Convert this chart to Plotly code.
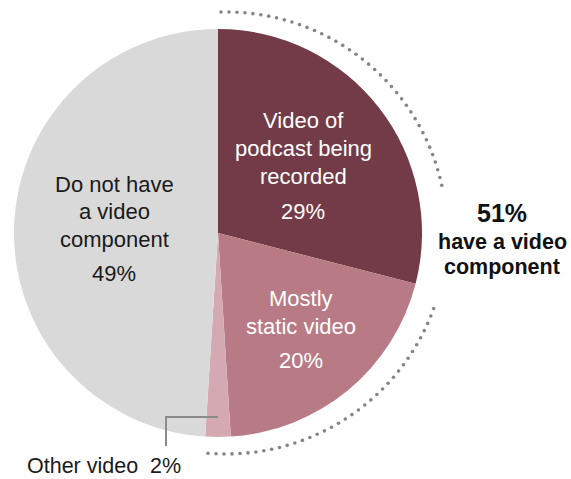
import numpy as np
import plotly.graph_objects as go

# Share of podcasts by type of video component (%)
categories = ["Video of podcast being recorded", "Mostly static video", "Other video", "Do not have a video component"]
shares = [29, 20, 2, 49]
colors = ["#733b47", "#b87b86", "#d5a9b1", "#d9d9d9"]

video_share = sum(shares[:3])

W, H = 571, 479
cx, cy, r = 218, 233, 204

fig = go.Figure()

fig.add_trace(go.Pie(
    labels=categories,
    values=shares,
    sort=False,
    direction="clockwise",
    rotation=0,
    marker=dict(colors=colors, line=dict(width=0)),
    textinfo="none",
    hoverinfo="skip",
    showlegend=False,
    domain=dict(x=[(cx - r) / W, (cx + r) / W], y=[1 - (cy + r) / H, 1 - (cy - r) / H]),
))

# Dotted bracket around the slices that have a video component
acx, acy, ar = 226, 233, 221
end_deg = video_share / 100 * 360 + 1.5
step = np.degrees(8 / ar)
segs = [np.arange(-1.3, 78.5, step), np.arange(110, end_deg + 0.1, step)]
ang = np.radians(np.concatenate(segs))
fig.add_trace(go.Scatter(
    x=acx + ar * np.sin(ang), y=acy - ar * np.cos(ang),
    mode="markers",
    marker=dict(size=3.6, color="#858585"),
    hoverinfo="skip", showlegend=False,
))

# Leader line for the small slice
fig.add_shape(type="line", x0=218, y0=417, x1=166, y1=417, xref="x", yref="y",
              line=dict(color="#8a8a8a", width=2))
fig.add_shape(type="line", x0=166, y0=416, x1=166, y1=446, xref="x", yref="y",
              line=dict(color="#8a8a8a", width=2))

FONT = "Liberation Sans, Arial, sans-serif"


def label(x, y, text, size=22, color="#1a1a1a", bold=False):
    if bold:
        text = "<b>" + text + "</b>"
    fig.add_annotation(x=x, y=y, xref="x", yref="y", text=text, showarrow=False,
                       xanchor="center", yanchor="middle", align="center",
                       font=dict(family=FONT, size=size, color=color))


def lines(x, ys, texts, **kw):
    for y, t in zip(ys, texts):
        label(x, y, t, **kw)


lines(303, [120, 148, 176], ["Video of", "podcast being", "recorded"], color="#ffffff")
label(303, 211, f"{shares[0]}%", color="#ffffff")

lines(301, [298, 326], ["Mostly", "static video"], color="#ffffff")
label(301, 360, f"{shares[1]}%", color="#ffffff")

lines(114, [184, 211, 239], ["Do not have", "a video", "component"])
label(114, 273, f"{shares[3]}%")

fig.add_annotation(x=25, y=466, xref="x", yref="y", text=f"Other video  {shares[2]}%",
                   showarrow=False, xanchor="left", yanchor="middle",
                   font=dict(family=FONT, size=21.5, color="#1a1a1a"))

label(502, 213, f"{video_share}%", size=25, color="#111111", bold=True)
lines(502, [242, 267], ["have a video", "component"], size=21.5, color="#111111", bold=True)

fig.update_layout(
    width=W, height=H,
    margin=dict(l=0, r=0, t=0, b=0),
    paper_bgcolor="#ffffff", plot_bgcolor="rgba(0,0,0,0)",
    xaxis=dict(range=[0, W], visible=False, fixedrange=True, domain=[0, 1]),
    yaxis=dict(range=[H, 0], visible=False, fixedrange=True, domain=[0, 1]),
    hovermode=False,
)

fig.write_html("out.html")
